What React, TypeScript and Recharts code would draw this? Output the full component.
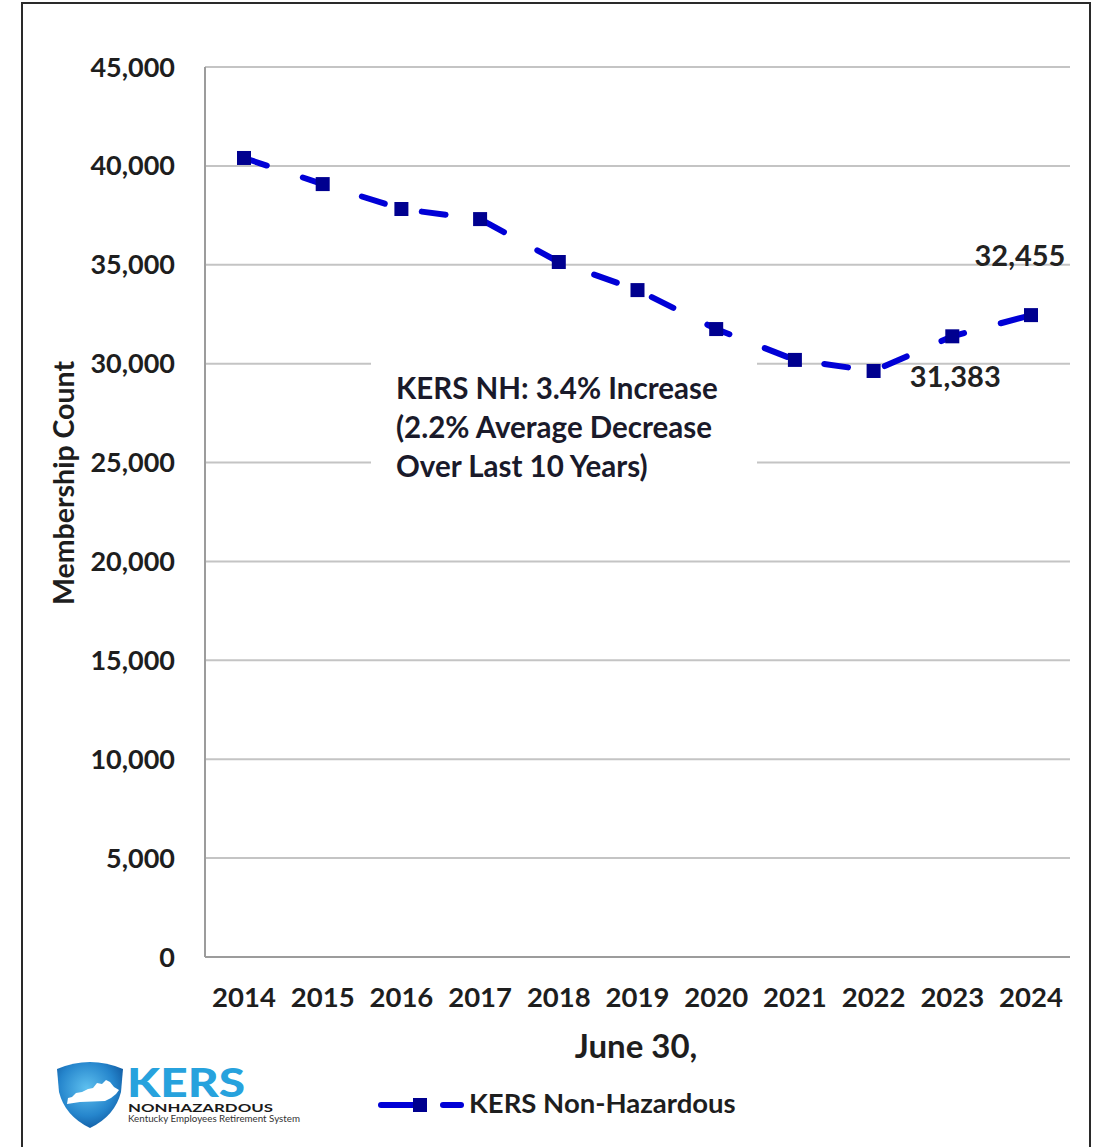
import React from 'react';
import { LineChart, Line, XAxis, YAxis, CartesianGrid, LabelList } from 'recharts';

const years = ['2014', '2015', '2016', '2017', '2018', '2019', '2020', '2021', '2022', '2023', '2024'];
const members = [40400, 39080, 37820, 37310, 35140, 33720, 31750, 30190, 29630, 31383, 32455];
const yTicks = [0, 5000, 10000, 15000, 20000, 25000, 30000, 35000, 40000, 45000];
const labeledIndexes = [9, 10];

const seriesName = 'KERS Non-Hazardous';
const yTitle = 'Membership Count';
const xTitle = 'June 30,';
const noteLines = ['KERS NH: 3.4% Increase', '(2.2% Average Decrease', 'Over Last 10 Years)'];

const data = years.map((y, i) => ({ year: y, members: members[i] }));

const FONT = 'Lato, "Open Sans", sans-serif';
const LINE_COLOR = '#0000d6';
const DOT_COLOR = '#00008f';

const fmt = (v: number) => v.toLocaleString('en-US');

const SquareDot = (props: any) => {
  const { cx, cy, index } = props;
  if (cx == null || cy == null) return null;
  return <rect key={`d${index}`} x={cx - 7} y={cy - 7} width={14} height={14} fill={DOT_COLOR} />;
};

const PointLabel = (props: any) => {
  const { x, y, value, index } = props;
  if (!labeledIndexes.includes(index)) return null;
  const above = index === labeledIndexes[1];
  return (
    <text
      x={x + (above ? -11 : 3)}
      y={y + (above ? -57 : 43)}
      textAnchor="middle"
      dominantBaseline="middle"
      fontFamily={FONT}
      fontWeight="bold"
      fontSize={29}
      fill="#222"
    >
      {fmt(value)}
    </text>
  );
};

const Logo = () => (
  <svg width={320} height={90} style={{ position: 'absolute', left: 40, top: 1050 }} viewBox="40 1050 320 90">
    <defs>
      <radialGradient id="shieldGrad" cx="0.45" cy="0.4" r="0.7">
        <stop offset="0" stopColor="#5ec0ef" />
        <stop offset="0.6" stopColor="#2585cc" />
        <stop offset="1" stopColor="#0b4f96" />
      </radialGradient>
    </defs>
    <path d="M57,1069 Q90,1055 123,1069 L121,1092 Q115,1116 90,1128 Q65,1116 59,1092 Z" fill="url(#shieldGrad)" />
    <path
      d="M67,1104 L68,1098 L72,1097 L76,1093 L82,1092 L88,1089 L93,1088 L97,1083 L102,1084 L106,1080 L110,1082 L114,1087 L119,1090 L116,1094 L111,1098 L105,1101 L80,1102 Z"
      fill="#ffffff"
    />
    <text x={127} y={1097} fontFamily={FONT} fontWeight={900} fontSize={40} fill="#27a2dd" textLength={118} lengthAdjust="spacingAndGlyphs">KERS</text>
    <text x={128} y={1112} fontFamily={FONT} fontWeight="bold" fontSize={12} fill="#1a1a1a" textLength={145} lengthAdjust="spacingAndGlyphs">NONHAZARDOUS</text>
    <text x={128} y={1122} fontFamily={FONT} fontSize={9} fill="#333" textLength={172} lengthAdjust="spacingAndGlyphs">Kentucky Employees Retirement System</text>
  </svg>
);

export default function App() {
  return (
    <div style={{ position: 'absolute', left: 0, top: 0, width: 1097, height: 1147, background: '#fff', overflow: 'hidden' }}>
      <div
        style={{
          position: 'absolute',
          left: 21,
          top: 2,
          width: 1066,
          height: 1200,
          borderLeft: '2px solid #2a2a2a',
          borderTop: '2px solid #2a2a2a',
          borderRight: '2px solid #2a2a2a',
        }}
      />
      <div style={{ position: 'absolute', left: 0, top: 0 }}>
        <LineChart width={1097} height={1147} data={data} margin={{ top: 67, right: 27, bottom: 150, left: 0 }}>
          <CartesianGrid vertical={false} stroke="#c4c4c4" strokeWidth={2} />
          <XAxis
            dataKey="year"
            interval={0}
            padding={{ left: 39, right: 39 }}
            axisLine={{ stroke: '#9c9c9c', strokeWidth: 2 }}
            tickLine={false}
            tickSize={0}
            tickMargin={30}
            height={40}
            tick={{ fontFamily: FONT, fontWeight: 'bold', fontSize: 27.5, fill: '#1e1e1e' }}
            label={{
              content: () => (
                <text x={636} y={1050} textAnchor="middle" dominantBaseline="middle" fontFamily={FONT} fontWeight="bold" fontSize={33} fill="#1e1e1e">
                  {xTitle}
                </text>
              ),
            }}
          />
          <YAxis
            domain={[0, 45000]}
            ticks={yTicks}
            width={205}
            axisLine={{ stroke: '#9c9c9c', strokeWidth: 2 }}
            tickLine={false}
            tickSize={0}
            tickMargin={30}
            tickFormatter={fmt}
            tick={{ fontFamily: FONT, fontWeight: 'bold', fontSize: 27, fill: '#1e1e1e' }}
            label={{
              content: () => (
                <text
                  x={67}
                  y={483}
                  transform="rotate(-90, 67, 483)"
                  textAnchor="middle"
                  dominantBaseline="middle"
                  fontFamily={FONT}
                  fontWeight="bold"
                  fontSize={28.5}
                  fill="#1e1e1e"
                >
                  {yTitle}
                </text>
              ),
            }}
          />
          <Line
            type="linear"
            dataKey="members"
            name={seriesName}
            stroke={LINE_COLOR}
            strokeWidth={6}
            strokeDasharray="24 38"
            strokeLinecap="round"
            dot={SquareDot}
            activeDot={false}
            isAnimationActive={false}
          >
            <LabelList dataKey="members" content={PointLabel} />
          </Line>
        </LineChart>
      </div>
      <div
        style={{
          position: 'absolute',
          left: 371,
          top: 352,
          width: 386,
          height: 130,
          background: '#fff',
          fontFamily: FONT,
          fontWeight: 'bold',
          fontSize: 29.5,
          lineHeight: '39px',
          color: '#1a1a2a',
          paddingLeft: 25,
          paddingTop: 16,
          boxSizing: 'border-box',
          whiteSpace: 'nowrap',
        }}
      >
        {noteLines.map((l) => (
          <div key={l}>{l}</div>
        ))}
      </div>
      <svg width={400} height={40} style={{ position: 'absolute', left: 370, top: 1085 }} viewBox="370 1085 400 40">
        <line x1={381} y1={1105} x2={413} y2={1105} stroke={LINE_COLOR} strokeWidth={6} strokeLinecap="round" />
        <rect x={413} y={1098} width={14} height={14} fill={DOT_COLOR} />
        <line x1={443} y1={1105} x2={461} y2={1105} stroke={LINE_COLOR} strokeWidth={6} strokeLinecap="round" />
        <text x={469} y={1106} dominantBaseline="middle" fontFamily={FONT} fontWeight="bold" fontSize={27.5} fill="#1e1e1e">
          {seriesName}
        </text>
      </svg>
      <Logo />
    </div>
  );
}
